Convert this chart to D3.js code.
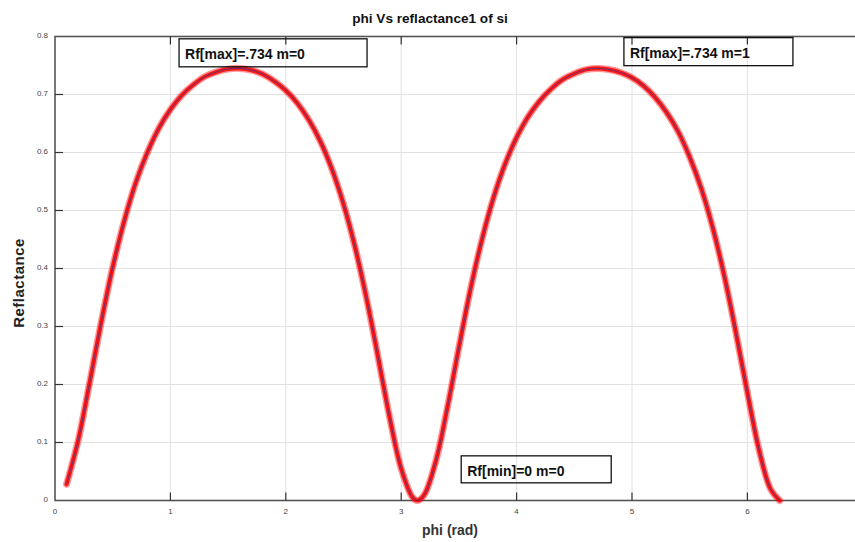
<!DOCTYPE html>
<html>
<head>
<meta charset="utf-8">
<script src="https://cdn.jsdelivr.net/npm/d3@7"></script>
<style>
  body { margin: 0; background: #fff; }
  svg { display: block; font-family: "Liberation Sans", Arial, sans-serif; }
</style>
</head>
<body>
<svg id="chart" width="855" height="542"></svg>
<script>
// phi in rad, reflectance
var phi = [0.1, 0.2, 0.3, 0.4, 0.5, 0.6, 0.7, 0.8, 0.9, 1.0,
  1.1, 1.2, 1.3, 1.4, 1.5, 1.6, 1.7, 1.8, 1.9, 2.0,
  2.1, 2.2, 2.3, 2.4, 2.5, 2.6, 2.7, 2.8, 2.9, 3.0,
  3.1, 3.14, 3.2, 3.3, 3.4, 3.5, 3.6, 3.7, 3.8, 3.9, 4.0,
  4.1, 4.2, 4.3, 4.4, 4.5, 4.6, 4.7, 4.8, 4.9, 5.0,
  5.1, 5.2, 5.3, 5.4, 5.5, 5.6, 5.7, 5.8, 5.9, 6.0,
  6.1, 6.2, 6.28];
var reflactance = [0.028, 0.103, 0.203, 0.307, 0.402, 0.482, 0.548, 0.600, 0.642, 0.674,
  0.699, 0.717, 0.731, 0.739, 0.744, 0.745, 0.742, 0.735, 0.723, 0.707,
  0.685, 0.656, 0.619, 0.571, 0.511, 0.437, 0.348, 0.247, 0.143, 0.055,
  0.005, 0.0, 0.010, 0.068, 0.160, 0.264, 0.364, 0.450, 0.522, 0.580, 0.626,
  0.662, 0.689, 0.710, 0.726, 0.736, 0.743, 0.745, 0.743, 0.738, 0.729,
  0.715, 0.695, 0.669, 0.636, 0.592, 0.538, 0.470, 0.387, 0.290, 0.186,
  0.088, 0.020, 0.0];

var xTicks = [0, 1, 2, 3, 4, 5, 6];
var yTicks = [0, 0.1, 0.2, 0.3, 0.4, 0.5, 0.6, 0.7, 0.8];
var notes = ["Rf[max]=.734 m=0", "Rf[max]=.734 m=1", "Rf[min]=0 m=0"];

var svg = d3.select("#chart");

var x = d3.scaleLinear().domain([0, 7]).range([55, 862.8]);
var y = d3.scaleLinear().domain([0, 0.8]).range([500.5, 36.5]);

// grid
svg.append("g").selectAll("line")
  .data(xTicks.slice(1)).enter().append("line")
  .attr("x1", function(d) { return x(d); }).attr("x2", function(d) { return x(d); })
  .attr("y1", y(0)).attr("y2", y(0.8))
  .style("stroke", "#e2e2e2").style("stroke-width", 1);

svg.append("g").selectAll("line")
  .data(yTicks.slice(1, -1)).enter().append("line")
  .attr("x1", x(0)).attr("x2", x(7))
  .attr("y1", function(d) { return y(d); }).attr("y2", function(d) { return y(d); })
  .style("stroke", "#e2e2e2").style("stroke-width", 1);

// frame
svg.append("rect")
  .attr("x", x(0)).attr("y", y(0.8))
  .attr("width", x(7) - x(0)).attr("height", y(0) - y(0.8))
  .style("fill", "none").style("stroke", "#555").style("stroke-width", 1.6);

// inward ticks
var tk = 8;
svg.append("g").selectAll("line")
  .data(xTicks.slice(1)).enter().append("line")
  .attr("x1", function(d) { return x(d); }).attr("x2", function(d) { return x(d); })
  .attr("y1", y(0)).attr("y2", y(0) - tk)
  .style("stroke", "#333").style("stroke-width", 1.2);
svg.append("g").selectAll("line")
  .data(xTicks.slice(1)).enter().append("line")
  .attr("x1", function(d) { return x(d); }).attr("x2", function(d) { return x(d); })
  .attr("y1", y(0.8)).attr("y2", y(0.8) + tk)
  .style("stroke", "#333").style("stroke-width", 1.2);
svg.append("g").selectAll("line")
  .data(yTicks.slice(1, -1)).enter().append("line")
  .attr("x1", x(0)).attr("x2", x(0) + tk)
  .attr("y1", function(d) { return y(d); }).attr("y2", function(d) { return y(d); })
  .style("stroke", "#333").style("stroke-width", 1.2);

// tick labels
svg.append("g").selectAll("text")
  .data(xTicks).enter().append("text")
  .attr("x", function(d) { return x(d); })
  .attr("y", 514)
  .attr("text-anchor", "middle")
  .style("font-size", "8px").style("fill", "#444")
  .text(function(d) { return d; });

svg.append("g").selectAll("text")
  .data(yTicks).enter().append("text")
  .attr("x", 48)
  .attr("y", function(d) { return y(d) + 1; })
  .attr("text-anchor", "end")
  .style("font-size", "8px").style("fill", "#444")
  .text(function(d) { return d3.format("")(+d.toFixed(1)); });

// curve: soft red markers look + thin dark line
var pts = phi.map(function(p, i) { return [p, reflactance[i]]; });
var line = d3.line()
  .x(function(d) { return x(d[0]); })
  .y(function(d) { return y(d[1]); })
  .curve(d3.curveCatmullRom);

svg.append("path")
  .datum(pts)
  .attr("d", line)
  .style("fill", "none")
  .style("stroke", "#ff0000")
  .style("stroke-opacity", 0.4)
  .style("stroke-width", 7)
  .style("stroke-linecap", "round")
  .style("stroke-linejoin", "round");

svg.append("path")
  .datum(pts)
  .attr("d", line)
  .style("fill", "none")
  .style("stroke", "#ff0000")
  .style("stroke-opacity", 0.85)
  .style("stroke-width", 4.2)
  .style("stroke-linecap", "round")
  .style("stroke-linejoin", "round");

svg.append("path")
  .datum(pts)
  .attr("d", line)
  .style("fill", "none")
  .style("stroke", "#3a3a85")
  .style("stroke-opacity", 0.75)
  .style("stroke-width", 1);

// annotation boxes
var boxes = [
  { px: 1.075, py: 0.796, w: 188, h: 28 },
  { px: 4.93, py: 0.798, w: 169, h: 28 },
  { px: 3.52, py: 0.077, w: 150, h: 27 }
];
boxes.forEach(function(b, i) {
  var g = svg.append("g").attr("transform", "translate(" + x(b.px) + "," + y(b.py) + ")");
  g.append("rect")
    .attr("width", b.w).attr("height", b.h)
    .style("fill", "none")
    .style("stroke", "#111").style("stroke-width", 1.3);
  g.append("text")
    .attr("x", 6).attr("y", 20)
    .style("font-size", "14px").style("font-weight", "bold").style("fill", "#111")
    .text(notes[i]);
});

// titles
svg.append("text")
  .attr("x", 430).attr("y", 23)
  .attr("text-anchor", "middle")
  .style("font-size", "13.6px").style("font-weight", "bold").style("fill", "#111")
  .text("phi Vs reflactance1 of si");

svg.append("text")
  .attr("x", 450).attr("y", 535)
  .attr("text-anchor", "middle")
  .style("font-size", "14px").style("font-weight", "bold").style("fill", "#333")
  .text("phi (rad)");

svg.append("text")
  .attr("transform", "translate(24,283) rotate(-90)")
  .attr("text-anchor", "middle")
  .style("font-size", "15px").style("font-weight", "bold").style("fill", "#222")
  .style("letter-spacing", "0.5px")
  .text("Reflactance");
</script>
</body>
</html>
